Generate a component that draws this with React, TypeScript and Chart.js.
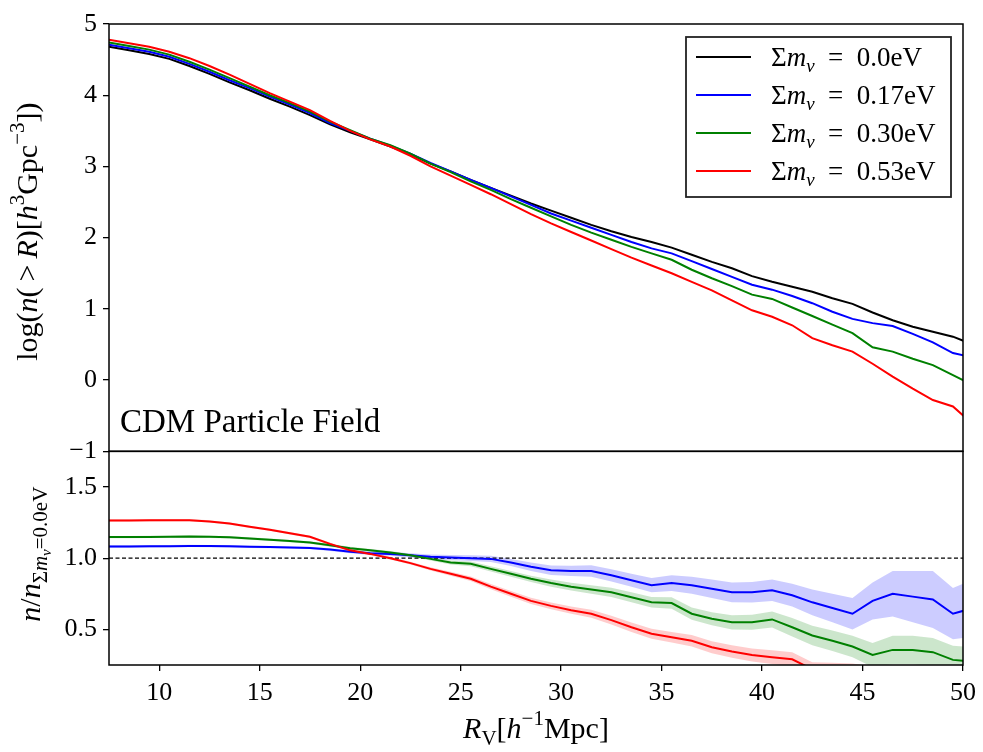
import React, { useEffect, useRef } from 'react';
import { Chart, registerables } from 'chart.js';

Chart.register(...registerables);

// ---------------- data ----------------
const radius = [
  7.5, 8.5, 9.5, 10.5, 11.5, 12.5, 13.5, 14.5, 15.5, 16.5,
  17.5, 18.5, 19.5, 20.5, 21.5, 22.5, 23.5, 24.5, 25.5, 26.5,
  27.5, 28.5, 29.5, 30.5, 31.5, 32.5, 33.5, 34.5, 35.5, 36.5,
  37.5, 38.5, 39.5, 40.5, 41.5, 42.5, 43.5, 44.5, 45.5, 46.5,
  47.5, 48.5, 49.5, 50.5,
];

const logN000 = [
  4.68, 4.63, 4.58, 4.51, 4.41, 4.30, 4.18, 4.07, 3.95, 3.84,
  3.72, 3.59, 3.48, 3.38, 3.28, 3.17, 3.04, 2.93, 2.81, 2.70,
  2.59, 2.48, 2.38, 2.28, 2.18, 2.09, 2.01, 1.94, 1.86, 1.76,
  1.66, 1.57, 1.46, 1.38, 1.31, 1.24, 1.15, 1.07, 0.95, 0.84,
  0.75, 0.68, 0.61, 0.50,
];
const logN017 = [
  4.71, 4.66, 4.61, 4.54, 4.44, 4.33, 4.21, 4.10, 3.98, 3.87,
  3.75, 3.61, 3.50, 3.39, 3.29, 3.18, 3.05, 2.93, 2.81, 2.70,
  2.58, 2.46, 2.34, 2.24, 2.14, 2.04, 1.94, 1.85, 1.78, 1.67,
  1.56, 1.45, 1.34, 1.27, 1.18, 1.08, 0.96, 0.86, 0.80, 0.76,
  0.65, 0.53, 0.38, 0.32,
];
const logN030 = [
  4.74, 4.69, 4.64, 4.57, 4.47, 4.36, 4.24, 4.12, 4.00, 3.89,
  3.77, 3.63, 3.51, 3.39, 3.30, 3.18, 3.04, 2.92, 2.79, 2.67,
  2.54, 2.42, 2.30, 2.18, 2.07, 1.97, 1.87, 1.78, 1.69, 1.55,
  1.43, 1.32, 1.20, 1.14, 1.02, 0.90, 0.78, 0.66, 0.46, 0.40,
  0.30, 0.21, 0.07, -0.07,
];
const logN053 = [
  4.78, 4.73, 4.68, 4.61, 4.52, 4.41, 4.29, 4.16, 4.03, 3.91,
  3.79, 3.64, 3.50, 3.38, 3.28, 3.15, 3.00, 2.87, 2.74, 2.61,
  2.47, 2.33, 2.20, 2.08, 1.96, 1.84, 1.72, 1.61, 1.50, 1.38,
  1.26, 1.12, 0.98, 0.89, 0.77, 0.59, 0.49, 0.40, 0.23, 0.05,
  -0.12, -0.28, -0.37, -0.62,
];

const ratio017 = [
  1.082, 1.082, 1.083, 1.084, 1.086, 1.085, 1.083, 1.080, 1.078, 1.075,
  1.072, 1.060, 1.045, 1.035, 1.030, 1.020, 1.010, 1.005, 1.000, 0.995,
  0.970, 0.940, 0.915, 0.910, 0.910, 0.880, 0.845, 0.810, 0.825, 0.810,
  0.785, 0.760, 0.760, 0.775, 0.740, 0.690, 0.650, 0.610, 0.700, 0.750,
  0.730, 0.710, 0.610, 0.650,
];
const ratio030 = [
  1.148, 1.148, 1.149, 1.150, 1.152, 1.150, 1.146, 1.138, 1.130, 1.120,
  1.110, 1.090, 1.070, 1.055, 1.040, 1.020, 0.995, 0.970, 0.960, 0.925,
  0.890, 0.855, 0.825, 0.800, 0.780, 0.760, 0.725, 0.690, 0.685, 0.610,
  0.575, 0.550, 0.550, 0.570, 0.515, 0.457, 0.420, 0.380, 0.320, 0.356,
  0.356, 0.340, 0.286, 0.275,
];
const ratio053 = [
  1.265, 1.265, 1.266, 1.267, 1.267, 1.258, 1.243, 1.220, 1.200, 1.175,
  1.150, 1.100, 1.055, 1.030, 1.000, 0.965, 0.925, 0.890, 0.855, 0.800,
  0.750, 0.700, 0.665, 0.635, 0.610, 0.565, 0.515, 0.470, 0.445, 0.420,
  0.375, 0.345, 0.320, 0.305, 0.290, 0.220, 0.215, 0.210, 0.190, 0.160,
  0.135, 0.110, 0.100, 0.085,
];

const err017 = [
  0.008, 0.008, 0.008, 0.008, 0.008, 0.008, 0.008, 0.008, 0.008, 0.008,
  0.008, 0.010, 0.010, 0.012, 0.013, 0.015, 0.016, 0.018, 0.020, 0.022,
  0.025, 0.030, 0.033, 0.036, 0.040, 0.043, 0.046, 0.050, 0.055, 0.060,
  0.065, 0.070, 0.072, 0.075, 0.080, 0.090, 0.100, 0.110, 0.130, 0.160,
  0.180, 0.200, 0.180, 0.200,
];
const err030 = [
  0.008, 0.008, 0.008, 0.008, 0.008, 0.008, 0.008, 0.008, 0.008, 0.008,
  0.008, 0.010, 0.010, 0.010, 0.010, 0.010, 0.012, 0.014, 0.016, 0.018,
  0.020, 0.022, 0.025, 0.027, 0.030, 0.032, 0.035, 0.037, 0.040, 0.043,
  0.046, 0.050, 0.053, 0.056, 0.065, 0.068, 0.072, 0.075, 0.085, 0.100,
  0.100, 0.100, 0.100, 0.100,
];
const err053 = [
  0.008, 0.008, 0.008, 0.008, 0.008, 0.008, 0.008, 0.008, 0.008, 0.008,
  0.008, 0.010, 0.010, 0.010, 0.010, 0.010, 0.012, 0.014, 0.016, 0.018,
  0.020, 0.022, 0.024, 0.026, 0.028, 0.030, 0.033, 0.035, 0.037, 0.040,
  0.042, 0.044, 0.046, 0.048, 0.050, 0.050, 0.050, 0.050, 0.050, 0.050,
  0.050, 0.050, 0.050, 0.050,
];

const massLabels = ['0.0', '0.17', '0.30', '0.53'];
const lineColors = ['#000000', '#0000ff', '#008000', '#ff0000'];
const bandColors = ['rgba(0,0,255,0.2)', 'rgba(0,128,0,0.2)', 'rgba(255,0,0,0.2)'];
const referenceRatio = [1.0, 1.0];
const referenceRadius = [7.5, 50];
const xTicks = [10, 15, 20, 25, 30, 35, 40, 45, 50];
const yTopTicks = [-1, 0, 1, 2, 3, 4, 5];
const yBotTicks = [0.5, 1.0, 1.5];
const panelLabel = 'CDM Particle Field';

const FONT = '"Liberation Serif", "DejaVu Serif", serif';

// ---------------- rich text helper ----------------
type Seg = { t: string; it?: boolean; lvl?: number };

function segFont(s: Seg, size: number) {
  const sc = s.lvl === 1 || s.lvl === -1 ? 0.7 : s.lvl === 2 ? 0.5 : 1;
  return `${s.it ? 'italic ' : ''}${(size * sc).toFixed(1)}px ${FONT}`;
}
function segShift(s: Seg, size: number) {
  if (s.lvl === -1) return -0.42 * size;
  if (s.lvl === 1) return 0.22 * size;
  if (s.lvl === 2) return 0.36 * size;
  return 0;
}
function drawRich(
  ctx: CanvasRenderingContext2D,
  segs: Seg[],
  x: number,
  y: number,
  size: number,
  align: 'left' | 'center',
  rot = 0
) {
  ctx.save();
  ctx.translate(x, y);
  ctx.rotate(rot);
  ctx.textAlign = 'left';
  ctx.textBaseline = 'alphabetic';
  ctx.fillStyle = '#000';
  const widths = segs.map((s) => {
    ctx.font = segFont(s, size);
    return ctx.measureText(s.t).width;
  });
  const total = widths.reduce((a, b) => a + b, 0);
  let cx = align === 'center' ? -total / 2 : 0;
  segs.forEach((s, i) => {
    ctx.font = segFont(s, size);
    ctx.fillText(s.t, cx, segShift(s, size));
    cx += widths[i];
  });
  ctx.restore();
}

const yTopTitle: Seg[] = [
  { t: 'log(' }, { t: 'n', it: true }, { t: '(\u2009>\u2009' }, { t: 'R', it: true },
  { t: ')[' }, { t: 'h', it: true }, { t: '3', lvl: -1 }, { t: 'Gpc' },
  { t: '\u22123', lvl: -1 }, { t: '])' },
];
const yBotTitle: Seg[] = [
  { t: 'n', it: true }, { t: '/' }, { t: 'n', it: true },
  { t: '\u03A3', lvl: 1 }, { t: 'm', it: true, lvl: 1 }, { t: '\u03BD', it: true, lvl: 2 },
  { t: '=0.0eV', lvl: 1 },
];
const xTitle: Seg[] = [
  { t: 'R', it: true }, { t: 'V', lvl: 1 }, { t: '[' }, { t: 'h', it: true },
  { t: '\u22121', lvl: -1 }, { t: 'Mpc]' },
];

const decorPlugin = {
  id: 'decor',
  afterDatasetsDraw(chart: any) {
    const { ctx, chartArea } = chart;
    const yt = chart.scales.yTop;
    const yb = chart.scales.yBot;
    const w = chartArea.right - chartArea.left;
    ctx.save();
    // frames
    ctx.strokeStyle = '#000';
    ctx.lineWidth = 1.5;
    ctx.strokeRect(chartArea.left, yt.top, w, yt.bottom - yt.top);
    ctx.strokeRect(chartArea.left, yb.top, w, yb.bottom - yb.top);

    // panel label
    ctx.fillStyle = '#000';
    ctx.font = `33px ${FONT}`;
    ctx.textAlign = 'left';
    ctx.textBaseline = 'alphabetic';
    ctx.fillText(panelLabel, chartArea.left + 11, yt.bottom - 19);

    // legend
    const bw = 265;
    const bh = 160;
    const bx = chartArea.right - 12 - bw;
    const by = yt.top + 13;
    ctx.fillStyle = 'rgba(255,255,255,0.85)';
    ctx.fillRect(bx, by, bw, bh);
    ctx.strokeStyle = '#222';
    ctx.lineWidth = 1.8;
    ctx.strokeRect(bx, by, bw, bh);
    massLabels.forEach((m, i) => {
      const ry = by + 20 + i * 38;
      ctx.strokeStyle = lineColors[i];
      ctx.lineWidth = 2;
      ctx.beginPath();
      ctx.moveTo(bx + 10, ry);
      ctx.lineTo(bx + 65, ry);
      ctx.stroke();
      drawRich(
        ctx,
        [{ t: '\u03A3' }, { t: 'm', it: true }, { t: '\u03BD', it: true, lvl: 1 }, { t: '\u2002=\u2002' + m + 'eV' }],
        bx + 85,
        ry + 9,
        27,
        'left'
      );
    });

    // axis titles
    drawRich(ctx, yTopTitle, 37, (yt.top + yt.bottom) / 2 - 6, 30, 'center', -Math.PI / 2);
    drawRich(ctx, yBotTitle, 40, (yb.top + yb.bottom) / 2 - 4, 30, 'center', -Math.PI / 2);
    drawRich(ctx, xTitle, (chartArea.left + chartArea.right) / 2, 738, 30, 'center');
    ctx.restore();
  },
};

function pts(ys: number[]) {
  return radius.map((x, i) => ({ x, y: ys[i] }));
}

export default function App() {
  const ref = useRef<HTMLCanvasElement | null>(null);

  useEffect(() => {
    if (!ref.current) return;
    const topSeries = [logN000, logN017, logN030, logN053];
    const ratioSeries = [ratio017, ratio030, ratio053];
    const errSeries = [err017, err030, err053];

    const datasets: any[] = [];
    topSeries.forEach((s, i) => {
      datasets.push({
        label: 'top' + massLabels[i],
        data: pts(s),
        yAxisID: 'yTop',
        borderColor: lineColors[i],
        borderWidth: 2,
        pointRadius: 0,
        fill: false,
        order: 3 - i,
      });
    });
    datasets.push({
      label: 'reference',
      data: referenceRadius.map((x, i) => ({ x, y: referenceRatio[i] })),
      yAxisID: 'yBot',
      borderColor: '#000',
      borderWidth: 1.3,
      borderDash: [4, 2.5],
      pointRadius: 0,
      fill: false,
      order: 10,
    });
    ratioSeries.forEach((s, i) => {
      datasets.push({
        label: 'ratio' + massLabels[i + 1],
        data: pts(s),
        yAxisID: 'yBot',
        borderColor: lineColors[i + 1],
        borderWidth: 2,
        pointRadius: 0,
        fill: false,
        order: 3 - (i + 1),
      });
    });
    ratioSeries.forEach((s, i) => {
      const hiIndex = datasets.length;
      datasets.push({
        label: 'hi' + i,
        data: pts(s.map((v, k) => v + errSeries[i][k])),
        yAxisID: 'yBot',
        borderWidth: 0,
        borderColor: 'rgba(0,0,0,0)',
        pointRadius: 0,
        fill: false,
        order: 20 + i,
      });
      datasets.push({
        label: 'lo' + i,
        data: pts(s.map((v, k) => v - errSeries[i][k])),
        yAxisID: 'yBot',
        borderWidth: 0,
        borderColor: 'rgba(0,0,0,0)',
        backgroundColor: bandColors[i],
        pointRadius: 0,
        fill: hiIndex,
        order: 20 + i,
      });
    });

    const tickFont = { family: FONT, size: 26 };
    const chart = new Chart(ref.current, {
      type: 'line',
      data: { datasets },
      plugins: [decorPlugin],
      options: {
        animation: false,
        responsive: false,
        devicePixelRatio: 1,
        layout: { padding: { top: 24, right: 16, left: 0, bottom: 0 } },
        plugins: { legend: { display: false }, tooltip: { enabled: false }, title: { display: false } },
        scales: {
          x: {
            type: 'linear',
            min: 7.5,
            max: 50,
            afterBuildTicks: (s: any) => { s.ticks = xTicks.map((v) => ({ value: v })); },
            afterFit: (s: any) => { s.height = 87; },
            ticks: { font: tickFont, color: '#000', autoSkip: false, maxRotation: 0, padding: 7, callback: (v: any) => String(v) },
            grid: { display: true, drawOnChartArea: false, drawTicks: true, tickLength: 6, color: '#000', lineWidth: 1.3 },
            border: { display: false },
          },
          yTop: {
            type: 'linear',
            position: 'left',
            stack: 'panels',
            stackWeight: 2,
            weight: 2,
            min: -1,
            max: 5,
            afterBuildTicks: (s: any) => { s.ticks = yTopTicks.map((v) => ({ value: v })); },
            afterFit: (s: any) => { s.width = 109; },
            ticks: {
              font: tickFont, color: '#000', autoSkip: false, padding: 6,
              callback: (v: any) => (v < 0 ? '\u2212' + Math.abs(v) : String(v)),
            },
            grid: { display: true, drawOnChartArea: false, drawTicks: true, tickLength: 6, color: '#000', lineWidth: 1.3 },
            border: { display: false },
          },
          yBot: {
            type: 'linear',
            position: 'left',
            stack: 'panels',
            stackWeight: 1,
            weight: 1,
            min: 0.25,
            max: 1.75,
            afterBuildTicks: (s: any) => { s.ticks = yBotTicks.map((v) => ({ value: v })); },
            afterFit: (s: any) => { s.width = 109; },
            ticks: {
              font: tickFont, color: '#000', autoSkip: false, padding: 6,
              callback: (v: any) => Number(v).toFixed(1),
            },
            grid: { display: true, drawOnChartArea: false, drawTicks: true, tickLength: 6, color: '#000', lineWidth: 1.3 },
            border: { display: false },
          },
        },
      } as any,
    });
    return () => chart.destroy();
  }, []);

  return (
    <div style={{ position: 'absolute', left: 0, top: 0, width: 983, height: 752, background: '#fff' }}>
      <canvas ref={ref} width={983} height={752} style={{ display: 'block', width: 983, height: 752 }} />
    </div>
  );
}
